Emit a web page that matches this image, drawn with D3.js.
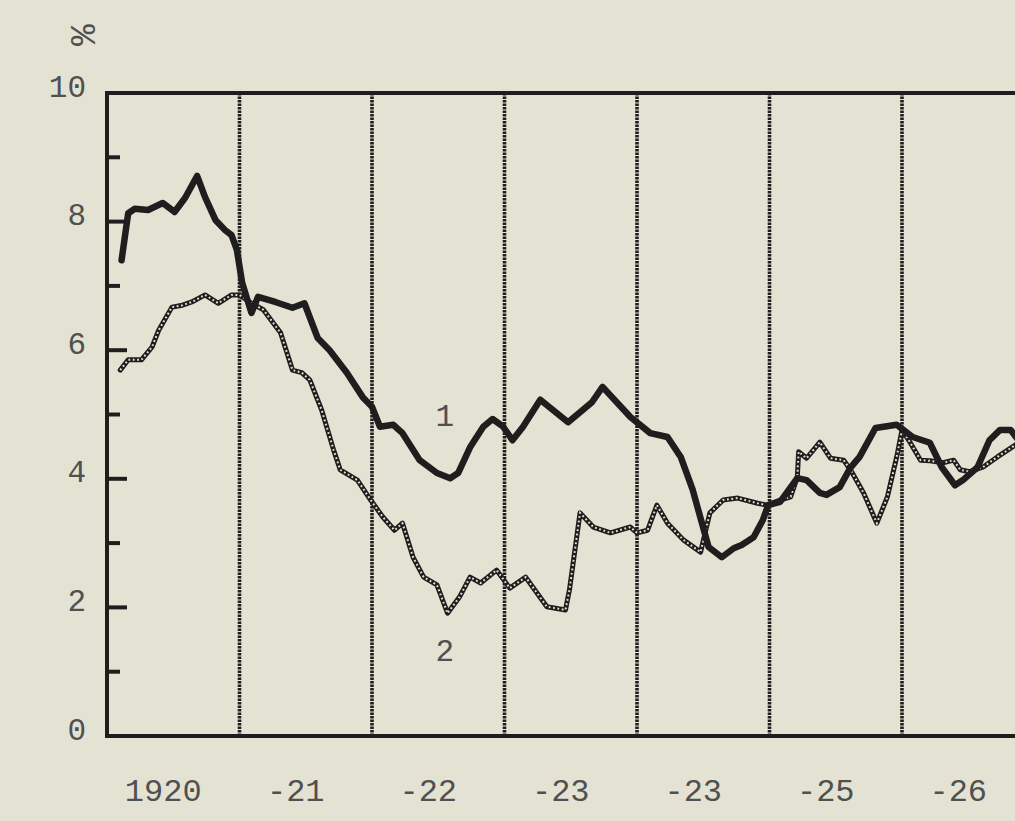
<!DOCTYPE html>
<html>
<head>
<meta charset="utf-8">
<script src="https://cdn.jsdelivr.net/npm/d3@7"></script>
<style>
  html, body { margin: 0; padding: 0; background: #e4e3d3; }
  svg { display: block; }
</style>
</head>
<body>
<svg id="chart" width="1015" height="821"></svg>
<script>
// ---- data ----
const yearTicks = [1920, 1921, 1922, 1923, 1924, 1925, 1926];
const yearLabels = ["1920", "-21", "-22", "-23", "-23", "-25", "-26"];
const yLabelTicks = [0, 2, 4, 6, 8, 10];
const yMinorTicks = [1, 3, 5, 7, 9];
const yMajorTicks = [2, 4, 6, 8];
const dividerYears = [1921, 1922, 1923, 1924, 1925, 1926];

// series 1 (thick solid line): [decimal year, %]
const series1 = [
  [1920.11,7.40],[1920.16,8.13],[1920.21,8.20],[1920.31,8.18],[1920.42,8.29],
  [1920.51,8.15],[1920.59,8.37],[1920.68,8.71],[1920.74,8.38],[1920.82,8.02],
  [1920.89,7.87],[1920.94,7.79],[1920.98,7.56],[1921.02,7.05],[1921.09,6.58],
  [1921.14,6.83],[1921.27,6.75],[1921.40,6.66],[1921.49,6.73],[1921.59,6.19],
  [1921.68,6.00],[1921.81,5.65],[1921.93,5.27],[1922.00,5.12],[1922.06,4.81],
  [1922.16,4.84],[1922.23,4.71],[1922.36,4.29],[1922.49,4.09],[1922.59,4.01],
  [1922.65,4.09],[1922.74,4.49],[1922.84,4.81],[1922.91,4.93],[1922.99,4.81],
  [1923.06,4.60],[1923.14,4.81],[1923.27,5.23],[1923.48,4.88],[1923.66,5.19],
  [1923.74,5.43],[1923.95,4.96],[1924.10,4.71],[1924.23,4.65],[1924.33,4.34],
  [1924.42,3.83],[1924.54,2.94],[1924.64,2.78],[1924.73,2.92],[1924.79,2.97],
  [1924.88,3.09],[1924.95,3.36],[1924.99,3.59],[1925.08,3.64],[1925.21,4.01],
  [1925.28,3.98],[1925.38,3.78],[1925.43,3.75],[1925.53,3.87],[1925.61,4.17],
  [1925.68,4.34],[1925.80,4.79],[1925.96,4.84],[1926.01,4.76],[1926.08,4.65],
  [1926.21,4.56],[1926.30,4.18],[1926.40,3.90],[1926.46,3.98],[1926.57,4.18],
  [1926.66,4.60],[1926.74,4.76],[1926.82,4.76],[1926.88,4.60]
];

// series 2 (beaded line): [decimal year, %]
const series2 = [
  [1920.10,5.69],[1920.16,5.85],[1920.26,5.85],[1920.34,6.05],[1920.39,6.31],
  [1920.49,6.67],[1920.57,6.70],[1920.64,6.75],[1920.74,6.86],[1920.84,6.73],
  [1920.94,6.86],[1921.00,6.86],[1921.09,6.73],[1921.18,6.63],[1921.31,6.27],
  [1921.40,5.69],[1921.47,5.65],[1921.53,5.54],[1921.62,5.07],[1921.71,4.45],
  [1921.76,4.14],[1921.89,3.98],[1921.99,3.67],[1922.08,3.41],[1922.17,3.20],
  [1922.23,3.31],[1922.31,2.78],[1922.39,2.47],[1922.49,2.35],[1922.57,1.91],
  [1922.66,2.16],[1922.74,2.47],[1922.82,2.38],[1922.94,2.58],[1923.04,2.30],
  [1923.16,2.47],[1923.32,2.01],[1923.46,1.96],[1923.49,2.27],[1923.57,3.47],
  [1923.67,3.25],[1923.80,3.16],[1923.95,3.25],[1924.00,3.16],[1924.08,3.20],
  [1924.15,3.59],[1924.23,3.31],[1924.35,3.05],[1924.48,2.86],[1924.55,3.47],
  [1924.65,3.67],[1924.76,3.70],[1924.91,3.62],[1924.98,3.59],[1925.08,3.67],
  [1925.16,3.72],[1925.21,4.03],[1925.22,4.42],[1925.28,4.32],[1925.38,4.57],
  [1925.46,4.32],[1925.56,4.29],[1925.62,4.11],[1925.71,3.78],[1925.81,3.31],
  [1925.89,3.72],[1925.96,4.34],[1926.00,4.76],[1926.06,4.57],[1926.14,4.29],
  [1926.21,4.28],[1926.31,4.25],[1926.39,4.29],[1926.44,4.14],[1926.51,4.11],
  [1926.61,4.18],[1926.72,4.34],[1926.88,4.56]
];

const seriesLabels = [
  { text: "1", t: 1922.55, v: 4.95 },
  { text: "2", t: 1922.55, v: 1.30 }
];

// ---- drawing ----
const paper = "#e4e3d3";
const ink = "#1e1e1e";
const textInk = "#505050";
const font = "'Liberation Mono', 'Courier New', monospace";

const svg = d3.select("#chart");
svg.append("rect").attr("width", 1015).attr("height", 821).attr("fill", paper);

const x = d3.scaleLinear().domain([1920, 1926]).range([107, 902]);
const y = d3.scaleLinear().domain([0, 10]).range([736, 93]);
const xEnd = 1040;

// vertical divider lines (beaded)
svg.append("g").selectAll("line").data(dividerYears).join("line")
  .attr("x1", d => x(d)).attr("x2", d => x(d))
  .attr("y1", y(10)).attr("y2", y(0))
  .attr("stroke", ink).attr("stroke-width", 3.6)
  .attr("stroke-dasharray", "2.4,1.1");

// series 2 (beaded)
const line = d3.line().x(d => x(d[0])).y(d => y(d[1]));
svg.append("path").datum(series2)
  .attr("d", line).attr("fill", "none")
  .attr("stroke", ink).attr("stroke-width", 5)
  .attr("stroke-linejoin", "round").attr("stroke-linecap", "round");
svg.append("path").datum(series2)
  .attr("d", line).attr("fill", "none")
  .attr("stroke", paper).attr("stroke-width", 2)
  .attr("stroke-dasharray", "1.8,2.6");

// series 1 (thick)
svg.append("path").datum(series1)
  .attr("d", line).attr("fill", "none")
  .attr("stroke", ink).attr("stroke-width", 6.5)
  .attr("stroke-linejoin", "round").attr("stroke-linecap", "round");

// frame: left axis, top and bottom lines
const frame = svg.append("g").attr("stroke", ink).attr("stroke-width", 4).attr("fill", "none");
frame.append("line").attr("x1", x(1920)).attr("x2", x(1920)).attr("y1", y(10) - 2).attr("y2", y(0) + 2);
frame.append("line").attr("x1", x(1920) - 2).attr("x2", xEnd).attr("y1", y(10)).attr("y2", y(10));
frame.append("line").attr("x1", x(1920) - 2).attr("x2", xEnd).attr("y1", y(0)).attr("y2", y(0));

// inward ticks on the left axis
svg.append("g").selectAll("line.maj").data(yMajorTicks).join("line")
  .attr("x1", x(1920)).attr("x2", x(1920) + 20)
  .attr("y1", d => y(d)).attr("y2", d => y(d))
  .attr("stroke", ink).attr("stroke-width", 4);
svg.append("g").selectAll("line.min").data(yMinorTicks).join("line")
  .attr("x1", x(1920)).attr("x2", x(1920) + 13)
  .attr("y1", d => y(d)).attr("y2", d => y(d))
  .attr("stroke", ink).attr("stroke-width", 4);

// y labels
svg.append("g").selectAll("text").data(yLabelTicks).join("text")
  .attr("x", 86).attr("y", d => y(d) - 5)
  .attr("text-anchor", "end").attr("dominant-baseline", "central")
  .attr("font-family", font).attr("font-size", 31).attr("fill", textInk)
  .text(d => d);

// % unit (rotated)
svg.append("text")
  .attr("transform", "translate(80,35) rotate(90)")
  .attr("text-anchor", "middle").attr("dominant-baseline", "central")
  .attr("font-family", font).attr("font-size", 36).attr("fill", textInk)
  .text("%");

// x labels
svg.append("g").selectAll("text").data(yearTicks).join("text")
  .attr("x", (d, i) => x(d + 0.5) - 10).attr("y", 792)
  .attr("text-anchor", "middle").attr("dominant-baseline", "central")
  .attr("font-family", font).attr("font-size", 32).attr("fill", textInk)
  .text((d, i) => yearLabels[i]);

// series labels
svg.append("g").selectAll("text").data(seriesLabels).join("text")
  .attr("x", d => x(d.t)).attr("y", d => y(d.v))
  .attr("text-anchor", "middle").attr("dominant-baseline", "central")
  .attr("font-family", font).attr("font-size", 31).attr("fill", textInk)
  .text(d => d.text);
</script>
</body>
</html>
